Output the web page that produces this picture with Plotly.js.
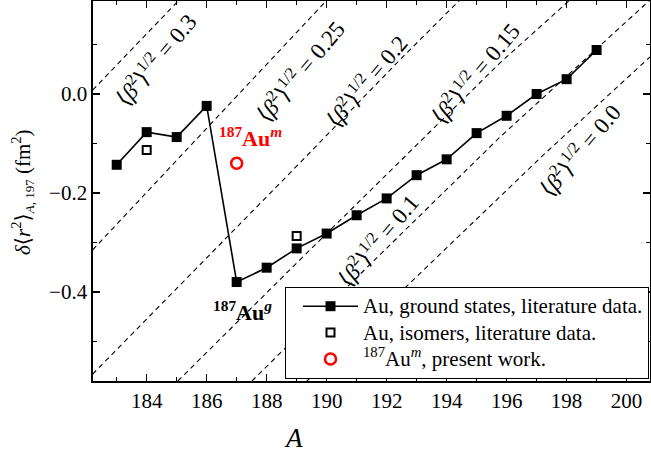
<!DOCTYPE html>
<html>
<head>
<meta charset="utf-8">
<script src="https://cdn.plot.ly/plotly-3.0.1.min.js"></script>
<style>html,body{margin:0;padding:0;background:#fff;}#chart{width:651px;height:457px;}</style>
</head>
<body>
<div id="chart"></div>
<script>
// ---- data ----
const groundA = [183,184,185,186,187,188,189,190,191,192,193,194,195,196,197,198,199];
const groundDr2 = [-0.143,-0.077,-0.087,-0.024,-0.380,-0.351,-0.312,-0.282,-0.245,-0.211,-0.164,-0.132,-0.079,-0.044,0.000,0.030,0.089];
const isomerA = [184,189];
const isomerDr2 = [-0.113,-0.287];
const presentA = [187];
const presentDr2 = [-0.140];

// isodeformation lines
const iso30A = [182.2,185.08];          const iso30Y = [0.008,0.19];
const iso25A = [182.2,185.78,190.01];   const iso25Y = [-0.315,-0.083,0.19];
const iso20A = [182.2,189.11,192.44,194.44]; const iso20Y = [-0.566,-0.139,0.069,0.19];
const iso15A = [185.04,189.11,195.78,198.11]; const iso15Y = [-0.58,-0.335,0.063,0.19];
const iso10A = [187.51,190.68,195.78,200.78]; const iso10Y = [-0.58,-0.39,-0.087,0.19];
const iso00A = [189.34,192.78,197.21,200.78]; const iso00Y = [-0.58,-0.382,-0.124,0.075];
const isoLabels = ['0.3','0.25','0.2','0.15','0.1','0.0'];

const xTickVals = [184,186,188,190,192,194,196,198,200];
const yTickVals = [-0.4,-0.2,0.0];

const serif = 'Liberation Serif, Times New Roman, serif';
const LB = '<span style="font-family:DejaVu Sans">⟨</span>';
const RB = '<span style="font-family:DejaVu Sans">⟩</span>';

function isoTrace(xs, ys){
  return {x: xs, y: ys, mode: 'lines', type: 'scatter', showlegend: false, hoverinfo: 'skip',
          line: {color: 'black', width: 1.1, dash: '5px,4px'}};
}

const big = s => '<span style="font-size:21px">' + s + '</span>';

const traces = [
  isoTrace(iso30A, iso30Y), isoTrace(iso25A, iso25Y), isoTrace(iso20A, iso20Y),
  isoTrace(iso15A, iso15Y), isoTrace(iso10A, iso10Y), isoTrace(iso00A, iso00Y),
  {x: groundA, y: groundDr2, type: 'scatter', mode: 'lines+markers',
   name: big('Au, ground states, literature data.'),
   line: {color: 'black', width: 1.6},
   marker: {symbol: 'square', size: 10, color: 'black'}},
  {x: isomerA, y: isomerDr2, type: 'scatter', mode: 'markers',
   name: big('Au, isomers, literature data.'),
   marker: {symbol: 'square-open', size: 8, color: 'black', line: {width: 2, color: 'black'}}},
  {x: presentA, y: presentDr2, type: 'scatter', mode: 'markers',
   name: big('<sup>187</sup>Au<sup><i>m</i></sup>, present work.'),
   marker: {symbol: 'circle-open', size: 11, color: 'red', line: {width: 2.5, color: 'red'}}}
];

// pixel -> paper helpers for text placement
const L = 93, R = 650, T = 1, B = 381;
const px = v => (v - L) / (R - L);
const py = v => (B - v) / (B - T);

const labelPos = [[184.28,0.069],[189.11,0.048],[191.31,0.028],[194.94,0.044],[191.71,-0.295],[198.44,-0.113]];
const annotations = isoLabels.map((lab, i) => ({
  x: labelPos[i][0], y: labelPos[i][1], xref: 'x', yref: 'y', showarrow: false,
  xanchor: 'center', yanchor: 'middle',
  text: LB + '<i>β</i><sup>2</sup>' + RB + '<sup>1/2</sup> = ' + lab, textangle: -50,
  font: {family: serif, size: 23, color: 'black'}
}));
annotations.push(
  {x: px(250), y: py(137), xref: 'paper', yref: 'paper', showarrow: false, xanchor: 'center', yanchor: 'middle',
   text: '<b><sup>187</sup>Au<sup><i>m</i></sup></b>', font: {family: serif, size: 22, color: 'red'}},
  {x: px(242), y: py(311), xref: 'paper', yref: 'paper', showarrow: false, xanchor: 'center', yanchor: 'middle',
   text: '<b><sup>187</sup>Au<sup><i>g</i></sup></b>', font: {family: serif, size: 22, color: 'black'}},
  {x: px(293), y: py(438), xref: 'paper', yref: 'paper', showarrow: false, xanchor: 'center', yanchor: 'middle',
   text: '<i>A</i>', font: {family: serif, size: 27, color: 'black'}},
  {x: px(22), y: py(192), xref: 'paper', yref: 'paper', showarrow: false, textangle: -90,
   xanchor: 'center', yanchor: 'middle',
   text: '<i>δ</i>' + LB + '<i>r</i><sup>2</sup>' + RB + '<sub><span style="font-size:13px"><i>A</i>, 197</span></sub> (fm<sup>2</sup>)',
   font: {family: serif, size: 21, color: 'black'}}
);

const axisCommon = {
  showgrid: false, zeroline: false, showline: true, linecolor: 'black', linewidth: 1.6,
  mirror: 'ticks', ticks: 'inside', ticklen: 7, tickwidth: 1.3, tickcolor: 'black',
  tickfont: {family: serif, size: 21, color: 'black'}
};

const layout = {
  width: 651, height: 457,
  margin: {l: L, r: 651 - R, t: T, b: 457 - B, pad: 0},
  paper_bgcolor: 'white', plot_bgcolor: 'white',
  showlegend: true,
  xaxis: Object.assign({}, axisCommon, {
    range: [182.21, 200.78], tickmode: 'array', tickvals: xTickVals,
    ticktext: xTickVals.map(String),
    minor: {dtick: 1, tick0: 183, ticks: 'inside', ticklen: 4, tickwidth: 1.2, tickcolor: 'black', showgrid: false}
  }),
  yaxis: Object.assign({}, axisCommon, {
    range: [-0.580, 0.188], tickmode: 'array', tickvals: yTickVals,
    ticktext: yTickVals.map(v => v === 0 ? '0.0' : '−' + Math.abs(v).toFixed(1)),
    minor: {dtick: 0.1, tick0: 0, ticks: 'inside', ticklen: 4, tickwidth: 1.2, tickcolor: 'black', showgrid: false}
  }),
  legend: {
    x: px(285), y: py(287), xanchor: 'left', yanchor: 'top',
    bgcolor: 'white', bordercolor: 'black', borderwidth: 1,
    font: {family: serif, size: 18, color: 'black'},
    itemwidth: 55, tracegroupgap: 0, indentation: 12
  },
  annotations: annotations
};

Plotly.newPlot('chart', traces, layout, {staticPlot: true, displayModeBar: false});
</script>
</body>
</html>
